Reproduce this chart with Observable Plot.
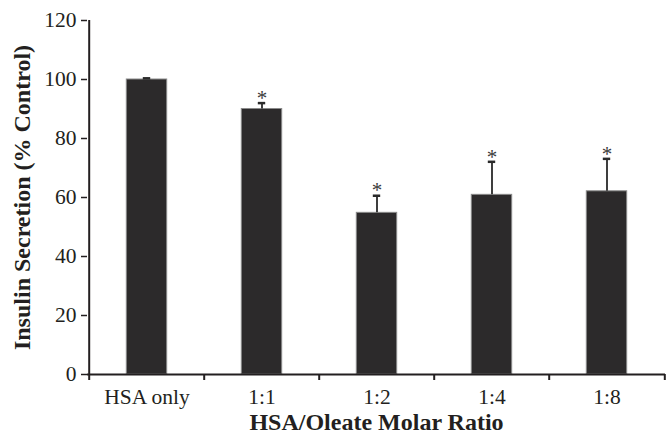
<!DOCTYPE html>
<html>
<head>
<meta charset="utf-8">
<script src="https://cdn.jsdelivr.net/npm/d3@7"></script>
<script src="https://cdn.jsdelivr.net/npm/@observablehq/plot@0.6"></script>
<style>
  html, body { margin: 0; padding: 0; background: #fff; }
</style>
</head>
<body>
<div id="chart"></div>
<script>
const categories = ["HSA only", "1:1", "1:2", "1:4", "1:8"];
const means = [100, 90.0, 54.8, 60.9, 62.1];
const errors = [0.4, 2.0, 5.8, 11.2, 11.0];
const significant = [false, true, true, true, true];
const yTicks = [0, 20, 40, 60, 80, 100, 120];
const yLabel = "Insulin Secretion (% Control)";
const xLabel = "HSA/Oleate Molar Ratio";

const data = categories.map((c, i) => ({cat: c, mean: means[i], err: errors[i], sig: significant[i]}));

const W = 667, H = 434, ML = 87, MR = 2, MT = 20, MB = 60;
const bw = (W - ML - MR) / categories.length;
const barW = 41, capW = 8;
const ink = "#231f20";

const chart = Plot.plot({
  width: W, height: H,
  marginLeft: ML, marginRight: MR, marginTop: MT, marginBottom: MB,
  style: {fontFamily: "'Liberation Serif', 'Times New Roman', serif", fontSize: "21.5px", color: ink, background: "#fff"},
  x: {domain: categories, padding: 0},
  y: {domain: [0, 120]},
  marks: [
    Plot.barY(data, {x: "cat", y: "mean", fill: "#2c2a2b", stroke: "#8a8a8a", strokeWidth: 1,
      insetLeft: (bw - barW) / 2, insetRight: (bw - barW) / 2}),
    Plot.ruleX(data, {x: "cat", y1: "mean", y2: d => d.mean + d.err, stroke: "#2a2a2a", strokeWidth: 1.8}),
    Plot.tickY(data, {x: "cat", y: d => d.mean + d.err, stroke: "#2a2a2a", strokeWidth: 2.5,
      insetLeft: (bw - capW) / 2, insetRight: (bw - capW) / 2}),
    Plot.text(data.filter(d => d.sig), {x: "cat", y: d => d.mean + d.err, text: () => "*",
      dy: -5, fontSize: 21, fill: "#3a3a3a", lineAnchor: "middle"}),
    Plot.ruleY([0], {stroke: ink, strokeWidth: 2}),
    Plot.ruleX([categories[0]], {y1: 0, y2: 120, dx: -bw / 2, stroke: ink, strokeWidth: 2}),
    Plot.axisY({ticks: yTicks, tickSize: 6, tickPadding: 5, label: null, stroke: ink, strokeWidth: 1.5}),
    Plot.axisX({tickSize: 0, tickPadding: 14, label: null}),
    Plot.axisX({tickSize: 6, tickFormat: () => "", dx: -bw / 2, label: null, stroke: ink, strokeWidth: 2}),
    Plot.axisX({ticks: [categories[categories.length - 1]], tickSize: 6, tickFormat: () => "", dx: bw / 2, label: null, stroke: ink, strokeWidth: 2}),
    Plot.text([yLabel], {text: d => d, frameAnchor: "left", rotate: -90, dx: -65, textAnchor: "middle",
      lineAnchor: "middle", fontWeight: "bold", fontSize: 24, fill: ink}),
    Plot.text([xLabel], {text: d => d, frameAnchor: "bottom", dy: 48, textAnchor: "middle",
      lineAnchor: "middle", fontWeight: "bold", fontSize: 24, fill: ink})
  ]
});
document.getElementById("chart").append(chart);
</script>
</body>
</html>
